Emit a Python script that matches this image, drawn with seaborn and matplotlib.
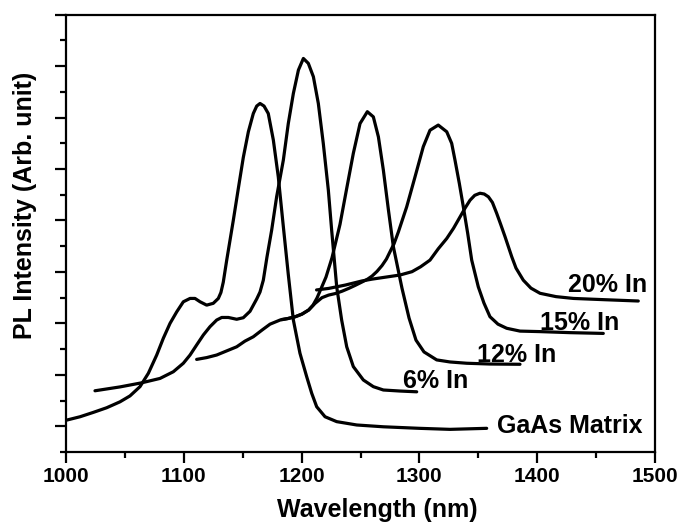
import numpy as np
import pandas as pd
import matplotlib
matplotlib.use("Agg")
import matplotlib.pyplot as plt
from matplotlib.ticker import MultipleLocator, NullFormatter
import seaborn as sns

# PL spectra (wavelength nm, intensity arb.)
gaas_x = [1000.6, 1011.9, 1023.2, 1034.5, 1045.8, 1054.3, 1062.8, 1069.9, 1077.0, 1082.6,
          1088.3, 1094.0, 1099.6, 1105.3, 1109.5, 1113.8, 1119.4, 1125.0, 1129.3, 1131.5,
          1133.5, 1136.4, 1142.0, 1146.3, 1150.5, 1154.8, 1159.0, 1161.9, 1164.7, 1168.1,
          1171.7, 1176.0, 1180.2, 1184.5, 1188.7, 1193.0, 1198.6, 1204.3, 1208.6, 1212.8,
          1219.9, 1229.8, 1246.8, 1269.4, 1300.0, 1326.0, 1357.1]
gaas_y = [1.24, 1.37, 1.54, 1.72, 1.95, 2.18, 2.54, 3.06, 3.77, 4.42,
          5.00, 5.45, 5.84, 5.97, 5.97, 5.84, 5.71, 5.78, 5.97, 6.20,
          6.60, 7.45, 9.00, 10.25, 11.45, 12.45, 13.16, 13.45, 13.55, 13.45,
          13.16, 12.13, 10.70, 8.76, 6.90, 5.13, 3.84, 2.93, 2.28, 1.76,
          1.37, 1.18, 1.05, 0.98, 0.92, 0.88, 0.92]

in6_x = [1024.6, 1045.8, 1064.3, 1079.8, 1091.1, 1099.6, 1105.3, 1110.9, 1116.6, 1122.2,
         1127.9, 1132.2, 1137.8, 1144.9, 1150.5, 1156.2, 1161.9, 1164.7, 1167.5, 1170.6,
         1174.6, 1178.8, 1184.5, 1188.7, 1193.0, 1197.3, 1201.5, 1205.7, 1210.0, 1214.2,
         1218.4, 1222.7, 1225.5, 1229.8, 1234.0, 1238.3, 1243.9, 1252.4, 1260.9, 1269.4,
         1283.5, 1297.7]
in6_y = [2.38, 2.53, 2.69, 2.86, 3.12, 3.45, 3.77, 4.16, 4.55, 4.87,
         5.13, 5.23, 5.23, 5.16, 5.22, 5.47, 5.95, 6.22, 6.68, 7.58,
         8.63, 9.92, 11.35, 12.77, 13.94, 14.85, 15.30, 15.11, 14.59, 13.55,
         12.00, 10.18, 8.63, 6.42, 5.13, 4.09, 3.32, 2.80, 2.54, 2.41,
         2.37, 2.34]

in12_x = [1110.9, 1119.4, 1127.9, 1136.4, 1144.9, 1151.9, 1159.0, 1166.4, 1173.2, 1181.7,
          1188.5, 1194.7, 1200.3, 1206.0, 1209.7, 1213.1, 1216.5, 1220.7, 1225.8, 1232.6,
          1238.3, 1243.9, 1249.6, 1255.8, 1260.9, 1265.2, 1269.4, 1273.7, 1277.9, 1285.2,
          1291.2, 1297.1, 1303.9, 1314.7, 1326.0, 1340.2, 1359.9, 1385.4]
in12_y = [3.60, 3.67, 3.77, 3.93, 4.09, 4.31, 4.48, 4.74, 4.97, 5.13,
          5.19, 5.26, 5.36, 5.52, 5.71, 5.99, 6.35, 6.80, 7.55, 8.85,
          10.25, 11.61, 12.77, 13.23, 13.03, 12.25, 10.96, 9.41, 7.98, 6.37,
          5.21, 4.35, 3.89, 3.58, 3.50, 3.45, 3.42, 3.41]

in15_x = [1183.1, 1188.5, 1194.7, 1200.3, 1206.0, 1211.5, 1217.3, 1222.9, 1228.6, 1234.3,
          1240.0, 1245.6, 1251.3, 1256.0, 1259.8, 1264.0, 1268.3, 1272.0, 1275.0, 1278.5,
          1282.1, 1289.2, 1296.3, 1303.3, 1309.0, 1316.0, 1323.2, 1327.4, 1330.2, 1333.9,
          1337.3, 1341.0, 1344.4, 1350.0, 1354.8, 1359.9, 1366.7, 1374.1, 1385.4, 1402.4,
          1427.8, 1456.1]
in15_y = [5.15, 5.19, 5.26, 5.36, 5.52, 5.78, 6.00, 6.10, 6.16, 6.25,
          6.36, 6.48, 6.61, 6.72, 6.84, 7.02, 7.25, 7.50, 7.78, 8.10,
          8.55, 9.53, 10.70, 11.87, 12.51, 12.71, 12.45, 12.00, 11.35, 10.44,
          9.53, 8.50, 7.46, 6.42, 5.79, 5.26, 4.97, 4.81, 4.70, 4.68,
          4.64, 4.61]

in20_x = [1212.7, 1223.0, 1237.1, 1251.3, 1259.8, 1271.6, 1283.5, 1293.7, 1301.0, 1309.0,
          1316.0, 1323.2, 1329.0, 1334.5, 1339.0, 1343.0, 1347.0, 1351.4, 1355.0, 1358.6,
          1362.0, 1365.6, 1369.0, 1372.7, 1378.4, 1382.0, 1388.2, 1394.7, 1402.4, 1416.0,
          1430.7, 1457.6, 1485.8]
in20_y = [6.30, 6.36, 6.49, 6.65, 6.72, 6.80, 6.88, 7.01, 7.20, 7.46,
          7.90, 8.30, 8.70, 9.14, 9.50, 9.79, 9.98, 10.06, 10.03, 9.92,
          9.70, 9.28, 8.85, 8.37, 7.59, 7.15, 6.68, 6.37, 6.17, 6.04,
          5.97, 5.92, 5.87]

curve_names = ["GaAs Matrix", "6% In", "12% In", "15% In", "20% In"]
# label anchor (left x, baseline y) in data units
label_x = [1365.6, 1286.3, 1348.6, 1402.4, 1426.1]
label_y = [0.73, 2.48, 3.51, 4.74, 6.23]

sns.set_style("ticks")
plt.rcParams['font.family'] = ['Liberation Sans', 'DejaVu Sans']
plt.rcParams['font.weight'] = 'bold'
plt.rcParams['text.color'] = 'black'
plt.rcParams['axes.labelcolor'] = 'black'
plt.rcParams['xtick.color'] = 'black'
plt.rcParams['ytick.color'] = 'black'

fig = plt.figure(figsize=(6.84, 5.26), dpi=100)
ax = fig.add_axes([0.0965, 0.1407, 0.8611, 0.8313])

frames = []
for name, xs, ys in zip(curve_names,
                        [gaas_x, in6_x, in12_x, in15_x, in20_x],
                        [gaas_y, in6_y, in12_y, in15_y, in20_y]):
    frames.append(pd.DataFrame({"wl": xs, "pl": ys, "sample": name}))
df = pd.concat(frames, ignore_index=True)

for name in curve_names:
    sub = df[df["sample"] == name]
    sns.lineplot(data=sub, x="wl", y="pl", color="black", linewidth=2.3,
                 estimator=None, sort=False, ax=ax,
                 solid_joinstyle='round', solid_capstyle='round')

for name, tx, ty in zip(curve_names, label_x, label_y):
    ax.text(tx, ty, name, fontsize=18, fontweight='bold', ha='left', va='baseline')

ax.set_xlim(1000, 1500)
ax.set_ylim(0, 17)
ax.xaxis.set_major_locator(MultipleLocator(100))
ax.xaxis.set_minor_locator(MultipleLocator(50))
ax.yaxis.set_major_locator(MultipleLocator(2, offset=1))
ax.yaxis.set_minor_locator(MultipleLocator(2))
ax.yaxis.set_major_formatter(NullFormatter())

for s in ax.spines.values():
    s.set_linewidth(1.6)
    s.set_color("black")
ax.tick_params(which='major', direction='out', length=8, width=1.6, pad=3,
               labelsize=15, top=False, right=False)
ax.tick_params(which='minor', direction='out', length=4.5, width=1.6,
               top=False, right=False)
for lab in ax.get_xticklabels():
    lab.set_fontweight('bold')

ax.set_xlabel("Wavelength (nm)", fontsize=18, fontweight='bold')
ax.set_ylabel("PL Intensity (Arb. unit)", fontsize=18, fontweight='bold')
ax.xaxis.set_label_coords(0.529, -0.105)
ax.yaxis.set_label_coords(-0.05, 0.565)

fig.savefig("out.png", dpi=100)
